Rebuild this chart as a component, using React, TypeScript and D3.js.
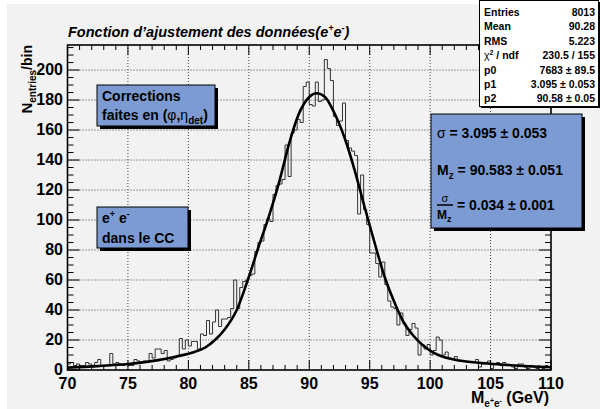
import React from "react";
import * as d3 from "d3";

// ---- data ----
const histLow = 70;
const histHigh = 110;
const binWidth = 0.25;
const counts = [
  4, 5, 3, 4, 3, 3, 5, 4, 2, 5,
  7, 3, 3, 3, 11, 4, 5, 4, 3, 4,
  3, 3, 7, 6, 5, 6, 5, 11, 8, 14,
  14, 11, 13, 6, 7, 8, 9, 21, 14, 20,
  16, 19, 19, 14, 24, 23, 33, 24, 32, 40,
  29, 34, 34, 35, 41, 60, 41, 55, 59, 60,
  63, 64, 79, 85, 86, 97, 101, 99, 117, 123,
  124, 127, 150, 129, 158, 160, 167, 165, 189, 192,
  177, 176, 192, 179, 180, 207, 201, 193, 169, 163,
  166, 178, 153, 148, 146, 143, 104, 130, 107, 97,
  78, 78, 71, 62, 72, 57, 46, 42, 41, 30,
  38, 31, 23, 27, 31, 28, 10, 17, 14, 17,
  10, 13, 22, 20, 10, 12, 8, 7, 9, 6,
  6, 6, 5, 5, 5, 7, 2, 4, 4, 6,
  1, 4, 5, 3, 5, 3, 3, 2, 1, 4,
  4, 2, 1, 3, 2, 1, 2, 1, 3, 2,
];
const fitX = [70, 72.5, 75, 77.5, 79, 80.5, 81.4, 82.2, 83, 84, 85, 85.8, 86.6, 87.5, 88.3, 89.1, 90, 90.6, 91.3, 92.1, 93, 93.8, 94.6, 95.4, 96.2, 97, 97.8, 98.6, 99.4, 100.2, 101, 102.7, 104.8, 107.7, 110];
const fitY = [1.6, 2.6, 4.0, 6.6, 9.0, 12, 15, 20, 27, 40, 62, 82, 101, 125, 150, 170, 182, 184.5, 182, 171, 153, 132, 108, 85, 63, 46, 32, 23, 16.5, 12, 9, 6, 4.3, 2.7, 1.8];
const xMajorTicks = [70, 75, 80, 85, 90, 95, 100, 105, 110];
const yMajorTicks = [0, 20, 40, 60, 80, 100, 120, 140, 160, 180, 200];
const statLabels = ["Entries", "Mean", "RMS", "chi2", "p0", "p1", "p2"];
const statValues = ["8013", "90.28", "5.223", "230.5 / 155", "7683 ± 89.5", "3.095 ± 0.053", "90.58 ± 0.05"];
const sigmaText = "= 3.095 ± 0.053";
const massText = "= 90.583 ± 0.051";
const ratioText = "= 0.034 ± 0.001";

const FONT = "'Liberation Sans', Arial, Helvetica, sans-serif";
const BLUE = "#7c9bd3";
const BG = "#f2f2f2";

export default function App() {
  const W = 600, H = 409;
  const fx0 = 67.5, fx1 = 551, fy0 = 45, fy1 = 370;
  const x = d3.scaleLinear().domain([histLow, histHigh]).range([fx0, fx1]);
  const y = d3.scaleLinear().domain([0, 216.7]).range([fy1, fy0]);

  // histogram step path
  const pts: [number, number][] = [[histLow, 0]];
  counts.forEach((c, i) => {
    const lo = histLow + i * binWidth;
    pts.push([lo, c]);
    pts.push([lo + binWidth, c]);
  });
  pts.push([histHigh, 0]);
  const histPath = d3.line<[number, number]>().x((d) => x(d[0])).y((d) => y(d[1]))(pts) || "";

  const fitPts = fitX.map((v, i) => [v, fitY[i]] as [number, number]);
  const fitPath = d3.line<[number, number]>().x((d) => x(d[0])).y((d) => y(d[1])).curve(d3.curveMonotoneX)(fitPts) || "";

  const xMinor = d3.range(histLow, histHigh + 0.001, 1);
  const yMinor = d3.range(0, 216, 5);

  const grid = "#444";

  return (
    <svg width={W} height={H} style={{ position: "absolute", left: 0, top: 0, fontFamily: FONT }}>
      <defs>
        <clipPath id="frameClip">
          <rect x={fx0} y={fy0} width={fx1 - fx0} height={fy1 - fy0} />
        </clipPath>
      </defs>
      <rect x={0} y={0} width={W} height={H} fill="#ffffff" />
      <rect x={7} y={4} width={W - 7} height={H - 4} fill={BG} />

      {/* grid */}
      {xMajorTicks.slice(1, -1).map((t) => (
        <line key={"gx" + t} x1={x(t)} x2={x(t)} y1={fy0} y2={fy1} stroke={grid} strokeWidth={1} strokeDasharray="1,2" />
      ))}
      {yMajorTicks.slice(1).map((t) => (
        <line key={"gy" + t} x1={fx0} x2={fx1} y1={y(t)} y2={y(t)} stroke={grid} strokeWidth={1} strokeDasharray="1,2" />
      ))}

      {/* histogram & fit */}
      <g clipPath="url(#frameClip)">
        <path d={histPath} fill="none" stroke="#333" strokeWidth={1} />
        <path d={fitPath} fill="none" stroke="#000" strokeWidth={2.6} />
      </g>

      {/* ticks */}
      {xMinor.map((t) => {
        const major = t % 5 === 0;
        const len = major ? 10 : 5;
        return (
          <g key={"xt" + t}>
            <line x1={x(t)} x2={x(t)} y1={fy1} y2={fy1 - len} stroke="#000" strokeWidth={1} />
            <line x1={x(t)} x2={x(t)} y1={fy0} y2={fy0 + len} stroke="#000" strokeWidth={1} />
          </g>
        );
      })}
      {yMinor.map((t) => {
        const major = t % 20 === 0;
        const len = major ? 12 : 6;
        return (
          <g key={"yt" + t}>
            <line x1={fx0} x2={fx0 + len} y1={y(t)} y2={y(t)} stroke="#000" strokeWidth={1} />
            <line x1={fx1} x2={fx1 - len} y1={y(t)} y2={y(t)} stroke="#000" strokeWidth={1} />
          </g>
        );
      })}

      {/* frame */}
      <rect x={fx0} y={fy0} width={fx1 - fx0} height={fy1 - fy0} fill="none" stroke="#000" strokeWidth={1.6} />

      {/* tick labels */}
      {xMajorTicks.map((t) => (
        <text key={"xl" + t} x={x(t)} y={389} textAnchor="middle" fontSize={16} fontWeight="bold">{t}</text>
      ))}
      {yMajorTicks.map((t) => (
        <text key={"yl" + t} x={63} y={y(t) + 5} textAnchor="end" fontSize={16} fontWeight="bold">{t}</text>
      ))}

      {/* axis titles */}
      <text x={549} y={403} textAnchor="end" fontWeight="bold" fontSize={16}>
        M<tspan fontSize={10} dy={4}>e</tspan><tspan fontSize={7} dy={-4}>+</tspan><tspan fontSize={10} dy={4}>e</tspan><tspan fontSize={7} dy={-4}>-</tspan><tspan dy={0}> (GeV)</tspan>
      </text>
      <text transform="translate(32,45) rotate(-90)" textAnchor="end" fontWeight="bold" fontSize={15}>
        N<tspan fontSize={10} dy={4}>entries</tspan><tspan fontSize={14} dy={-4}>/bin</tspan>
      </text>

      {/* title */}
      <text x={68} y={37} fontSize={14.5} fontWeight="bold" fontStyle="italic">
        Fonction d’ajustement des données(e<tspan fontSize={9} dy={-6}>+</tspan><tspan dy={6}>e</tspan><tspan fontSize={9} dy={-6}>-</tspan><tspan dy={6}>)</tspan>
      </text>

      {/* legend box 1 */}
      <rect x={100} y={88} width={118} height={41} fill="#000" />
      <rect x={97} y={85} width={118} height={41} fill={BLUE} stroke="#000" strokeWidth={1} />
      <text x={102} y={101} fontSize={14} fontWeight="bold">Corrections</text>
      <text x={102} y={120} fontSize={14} fontWeight="bold">
        faites en (<tspan fontWeight="normal">φ</tspan>,<tspan fontWeight="normal">η</tspan><tspan fontSize={10} dy={4}>det</tspan><tspan dy={-4}>)</tspan>
      </text>

      {/* legend box 2 */}
      <rect x={100} y={210} width={91} height={41} fill="#000" />
      <rect x={97} y={207} width={91} height={41} fill={BLUE} stroke="#000" strokeWidth={1} />
      <text x={102} y={223} fontSize={14} fontWeight="bold">
        e<tspan fontSize={9} dy={-6}>+</tspan><tspan dy={6}> e</tspan><tspan fontSize={9} dy={-6}>-</tspan>
      </text>
      <text x={102} y={243} fontSize={14} fontWeight="bold">dans le CC</text>

      {/* result box */}
      <rect x={434} y={117} width={151} height={114} fill="#000" />
      <rect x={431} y={114} width={151} height={114} fill={BLUE} stroke="#000" strokeWidth={1} />
      <text x={437} y={138} fontSize={14} fontWeight="bold">
        <tspan fontWeight="normal">σ</tspan> {sigmaText}
      </text>
      <text x={437} y={175} fontSize={14} fontWeight="bold">
        M<tspan fontSize={10} dy={4}>z</tspan><tspan dy={-4}> {massText}</tspan>
      </text>
      <text x={445} y={202} fontSize={11} textAnchor="middle">σ</text>
      <line x1={437} x2={453} y1={205} y2={205} stroke="#000" strokeWidth={1.5} />
      <text x={437} y={219} fontSize={12} fontWeight="bold">
        M<tspan fontSize={9} dy={3}>z</tspan>
      </text>
      <text x={457} y={210} fontSize={14} fontWeight="bold">{ratioText}</text>

      {/* stats box */}
      <rect x={481} y={2} width={119} height={106} fill="#000" />
      <rect x={479.5} y={0.5} width={119} height={106} fill="#ffffff" stroke="#000" strokeWidth={1} />
      {statLabels.map((l, i) => (
        <g key={"st" + i}>
          <text x={484} y={16 + i * 14.4} fontSize={10.5} fontWeight="bold">
            {l === "chi2" ? (
              <>
                <tspan fontWeight="normal">χ</tspan><tspan fontSize={7} dy={-4}>2</tspan><tspan dy={4}> / ndf</tspan>
              </>
            ) : l}
          </text>
          <text x={595} y={16 + i * 14.4} fontSize={10.5} fontWeight="bold" textAnchor="end">{statValues[i]}</text>
        </g>
      ))}
    </svg>
  );
}
